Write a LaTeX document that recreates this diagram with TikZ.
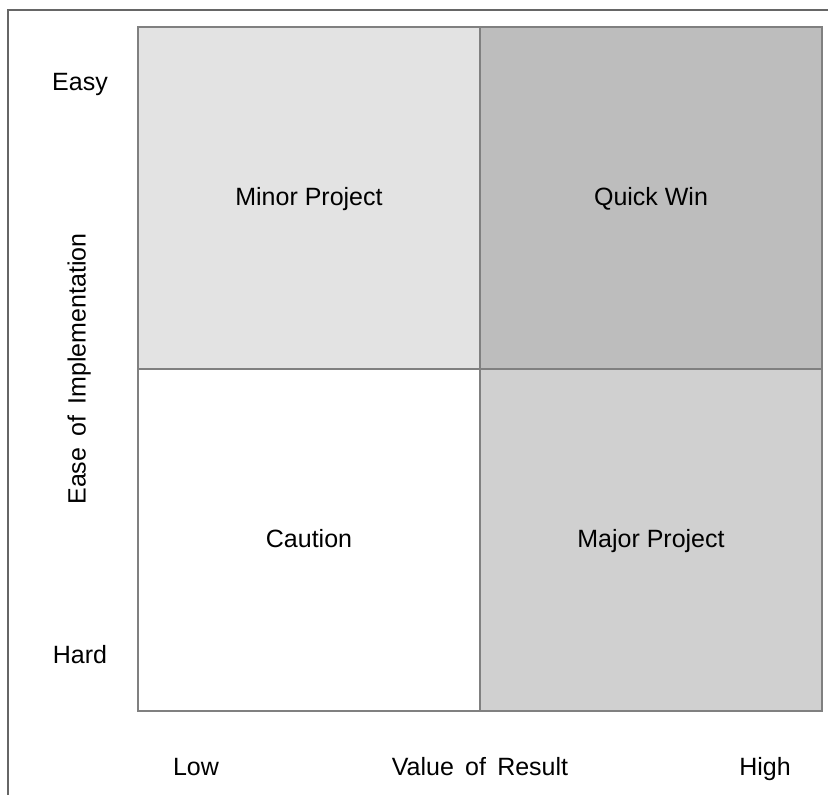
\documentclass[tikz,border=0pt]{standalone}
\usepackage{fontspec}
\setmainfont{Liberation Sans}
\begin{document}
\begin{tikzpicture}[x=1pt,y=-1pt,
  txt/.style={font=\fontsize{25}{29}\selectfont, text height=0.716em, text depth=0pt},
  cell/.style={draw=gray!100!black, line width=1.5pt, minimum width=342pt, minimum height=342pt, inner sep=0pt, outer sep=0pt, anchor=north west},
  lab/.style={txt, inner sep=0pt}]
\useasboundingbox (0,0) rectangle (828,795);
\fill[white] (0,0) rectangle (828,795);
\draw[color=black!60, line width=2pt] (8,800) -- (8,10) -- (840,10);
\node[cell, fill=black!11] (tl) at (138,27) {};
\node[cell, fill=black!26] (tr) at (480,27) {};
\node[cell, fill=white] (bl) at (138,369) {};
\node[cell, fill=black!18.5] (br) at (480,369) {};
\node[lab] (tlt) at ([yshift=-4pt]tl.center) {Minor Project};
\node[lab] (trt) at ([yshift=-4pt]tr.center) {Quick Win};
\node[lab] (blt) at ([yshift=-4pt]bl.center) {Caution};
\node[lab] (brt) at ([yshift=-4pt]br.center) {Major Project};
\node[lab] (easy) at (80,87) {Easy};
\node[lab] (hard) at (80,660) {Hard};
\node[lab, rotate=90] (ease) at (82,369) {Ease\hspace{0.45em}of\hspace{0.45em}Implementation};
\node[lab] (low) at (196,772) {Low};
\node[lab] (val) at (480,772) {Value\hspace{0.45em}of\hspace{0.45em}Result};
\node[lab] (high) at (765,772) {High};
\end{tikzpicture}
\end{document}
